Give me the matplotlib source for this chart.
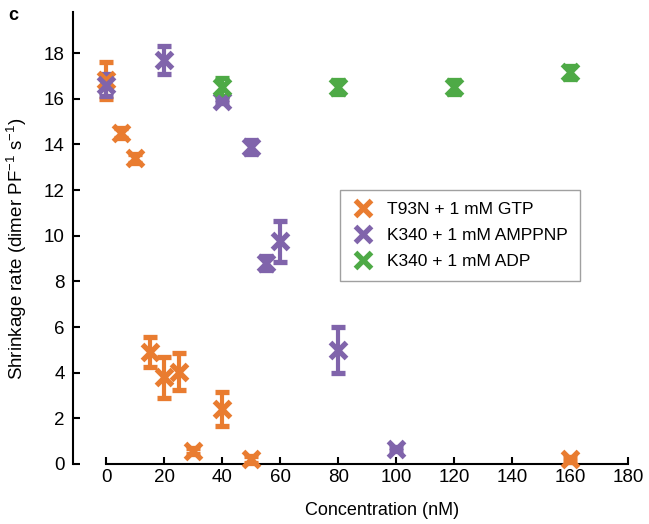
import matplotlib
matplotlib.use('Agg')
import matplotlib.pyplot as plt
from matplotlib.lines import Line2D

plt.rcParams['font.family'] = ['Liberation Sans', 'DejaVu Sans']
plt.rcParams['mathtext.default'] = 'regular'

# T93N + 1 mM GTP
gtp_x = [0, 5, 10, 15, 20, 25, 30, 40, 50, 160]
gtp_y = [16.8, 14.5, 13.4, 4.9, 3.8, 4.05, 0.57, 2.4, 0.2, 0.2]
gtp_err = [0.8, 0.2, 0.2, 0.65, 0.9, 0.8, 0.15, 0.75, 0.15, 0.1]

# K340 + 1 mM AMPPNP
amp_x = [0, 20, 40, 50, 55, 60, 80, 100]
amp_y = [16.6, 17.7, 15.9, 13.9, 8.8, 9.75, 5.0, 0.65]
amp_err = [0.5, 0.6, 0.1, 0.3, 0.3, 0.9, 1.0, 0.1]

# K340 + 1 mM ADP
adp_x = [40, 80, 120, 160]
adp_y = [16.5, 16.5, 16.5, 17.15]
adp_err = [0.4, 0.3, 0.3, 0.3]

labels = ['T93N + 1 mM GTP', 'K340 + 1 mM AMPPNP', 'K340 + 1 mM ADP']
colors = ['#E97C30', '#8064AB', '#4EAA46']

fig = plt.figure(figsize=(6.49, 5.24), dpi=100)
ax = fig.add_axes([73 / 649, 60 / 524, 567 / 649, 452 / 524])

series = [(gtp_x, gtp_y, gtp_err), (amp_x, amp_y, amp_err), (adp_x, adp_y, adp_err)]
for (xs, ys, es), c in zip(series, colors):
    ax.errorbar(xs, ys, yerr=es, fmt='x', color=c, ms=11, mew=3.8,
                elinewidth=3, capsize=5, capthick=3, clip_on=False, zorder=3)

ax.set_xlim(-11.4, 184)
ax.set_ylim(0, 19.8)
ax.spines['top'].set_visible(False)
ax.spines['right'].set_visible(False)
ax.spines['bottom'].set_bounds(0, 180)
ax.spines['left'].set_linewidth(1.5)
ax.spines['bottom'].set_linewidth(1.5)
ax.set_xticks(range(0, 181, 20))
ax.set_yticks(range(0, 19, 2))
ax.tick_params(direction='in', length=5, width=1.5, labelsize=13.5)
ax.tick_params(axis='y', pad=6)

ax.set_xlabel('Concentration (nM)', fontsize=13)
ax.set_ylabel('Shrinkage rate (dimer PF$^{-1}$ s$^{-1}$)', fontsize=13.5)
ax.xaxis.set_label_coords(0.545, -0.084)
ax.yaxis.set_label_coords(-0.078, 0.476)

handles = [Line2D([], [], marker='x', ls='none', color=c, ms=11, mew=3.8) for c in colors]
leg = ax.legend(handles, labels, loc='upper left', bbox_to_anchor=(0.471, 0.606),
                borderaxespad=0, fontsize=12.5, frameon=True, fancybox=False,
                handletextpad=0.7, handlelength=1.3, labelspacing=0.62,
                borderpad=0.7)
leg.get_frame().set_edgecolor('#888888')
leg.get_frame().set_linewidth(1)

fig.text(8 / 649, 1 - 20 / 524, 'c', fontsize=13, fontweight='bold')

fig.savefig('out.png', dpi=100)
